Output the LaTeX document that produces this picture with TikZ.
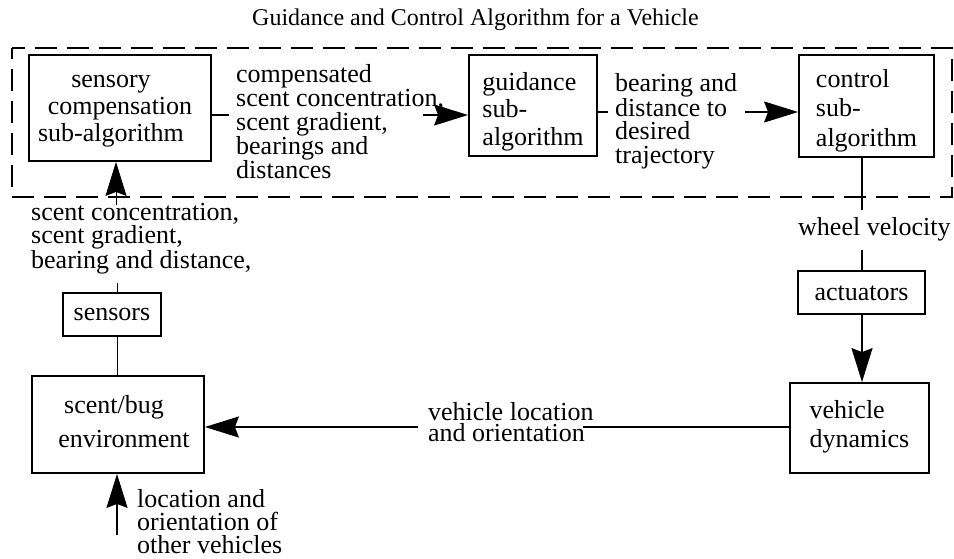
\documentclass[tikz,border=0pt]{standalone}
\usepackage{fontspec}
\setmainfont{Liberation Serif}
\usetikzlibrary{arrows.meta}
\begin{document}
\begin{tikzpicture}[x=1pt,y=-1pt,
  box/.style={draw,line width=1.8pt,inner sep=0pt,text depth=0pt},
  lbl/.style={inner sep=0pt,anchor=base west,align=left},
  thickln/.style={line width=1.8pt},
  thinln/.style={line width=0.9pt},
  arr/.style={-{Stealth[length=34pt,width=21pt,inset=4pt]}},
  groupbox/.style={draw,line width=1.8pt,dash pattern=on 22pt off 10pt,dash phase=11pt}]
\useasboundingbox (0,0) rectangle (954,558);

% title
\node[lbl,font=\fontsize{24}{26}\selectfont] (title) at (252,25) {Guidance and Control Algorithm for a Vehicle};

% dashed group
\draw[groupbox] (12,48) rectangle (952,197);

% boxes
\node[box,minimum width=182pt,minimum height=106pt,text height=66pt,align=center,font=\fontsize{26}{27}\selectfont] (sensory) at (120,108) {sensory\hspace*{18pt}\\compensation\hspace*{18pt}\\sub-algorithm\hspace*{18pt}};
\node[box,minimum width=128pt,minimum height=101pt,text height=79pt,align=left,font=\fontsize{26}{27.5}\selectfont] (guidance) at (533,105.5) {guidance\\sub-\\algorithm};
\node[box,minimum width=135pt,minimum height=102pt,text height=80pt,align=left,font=\fontsize{26}{29.5}\selectfont] (control) at (866.5,106) {control\\sub-\\algorithm};
\node[box,minimum width=98pt,minimum height=43pt,text height=11pt,font=\fontsize{26}{28}\selectfont] (sensors) at (112,314.5) {sensors};
\node[box,minimum width=127pt,minimum height=43pt,text height=15pt,font=\fontsize{26}{28}\selectfont] (actuators) at (861.5,292.5) {actuators};
\node[box,minimum width=139pt,minimum height=90pt,text height=38pt,align=left,font=\fontsize{26}{29}\selectfont] (vehdyn) at (859.5,428) {vehicle\\dynamics};
\node[box,minimum width=172pt,minimum height=97pt,text height=45pt,align=center,font=\fontsize{26}{34}\selectfont] (env) at (118,424.5) {scent/bug\hspace*{8pt}\\\hspace*{12pt}environment};

% labels
\node[lbl,font=\fontsize{26}{24}\selectfont] (lab1) at (236,178) {compensated\\scent concentration,\\scent gradient,\\bearings and\\distances};
\node[lbl,font=\fontsize{26}{23.3}\selectfont] (lab2) at (615,163) {bearing and\\distance to\\desired\\trajectory};
\node[lbl,font=\fontsize{26}{24}\selectfont] (lab3) at (798,235) {wheel velocity};
\node[lbl,font=\fontsize{26}{21}\selectfont] (lab4) at (428,441) {vehicle location\\and orientation};
\node[lbl,font=\fontsize{26}{22}\selectfont] (lab5) at (31,268) {scent concentration,\\scent gradient,\\bearing and distance,};
\node[lbl,font=\fontsize{26}{23}\selectfont] (lab6) at (137,553) {location and\\orientation of\\other vehicles};

% coordinates
\coordinate (a1) at (229,115);
\coordinate (a2) at (423,115);
\coordinate (b1) at (608,112);
\coordinate (b2) at (745,112);
\coordinate (c0) at (862,157);
\coordinate (c1) at (862,210);
\coordinate (c2) at (862,250);
\coordinate (d1) at (583,427);
\coordinate (d2) at (418,427);
\coordinate (e0) at (117,376);
\coordinate (e1) at (117,283);
\coordinate (e2) at (116,205);
\coordinate (f1) at (117,535);

% connectors
\draw[thickln] (sensory.east |- a1) -- (a1);
\draw[thickln,arr] (a2) -- (guidance.west |- a2);
\draw[thickln] (guidance.east |- b1) -- (b1);
\draw[thickln,arr] (b2) -- (control.west |- b2);
\draw[thickln] (c0) -- (c1);
\draw[thickln] (c2) -- (actuators.north -| c2);
\draw[thickln,arr] (actuators.south -| c2) -- (vehdyn.north -| c2);
\draw[thickln] (vehdyn.west |- d1) -- (d1);
\draw[thickln,arr] (d2) -- (env.east |- d2);
\draw[thinln] (e0) -- (sensors.south -| e0);
\draw[thinln] (sensors.north -| e1) -- (e1);
\draw[thinln,arr] (e2) -- (sensory.south -| e2);
\draw[thickln,arr] (f1) -- (env.south -| f1);
\end{tikzpicture}
\end{document}
